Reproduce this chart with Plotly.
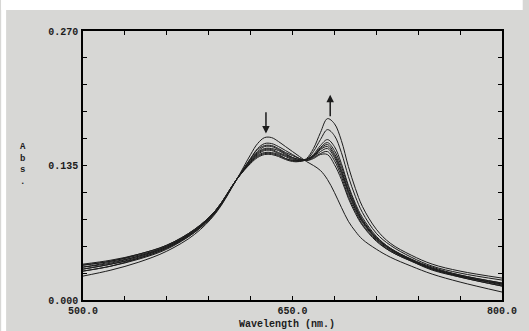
import plotly.graph_objects as go

# Wavelength grid (nm)
wavelength = [500, 520, 540, 560, 580, 595, 610, 620, 625, 630, 635, 640, 645, 650, 655,
              660, 665, 670, 675, 680, 685, 690, 695, 700, 710, 720, 735, 750, 770, 800]

# Absorbance spectra (initial -> final)
abs_c0 = [0.024, 0.030, 0.038, 0.049, 0.066, 0.087, 0.121, 0.146, 0.157, 0.163, 0.163, 0.159, 0.154, 0.149, 0.144,
          0.139, 0.135, 0.130, 0.121, 0.108, 0.093, 0.079, 0.069, 0.061, 0.051, 0.043, 0.034, 0.026, 0.018, 0.008]
abs_c1 = [0.029, 0.034, 0.041, 0.051, 0.068, 0.088, 0.121, 0.142, 0.152, 0.157, 0.157, 0.154, 0.150, 0.146, 0.142,
          0.140, 0.142, 0.146, 0.146, 0.136, 0.121, 0.102, 0.087, 0.075, 0.059, 0.049, 0.039, 0.030, 0.023, 0.014]
abs_c2 = [0.029, 0.034, 0.042, 0.052, 0.068, 0.088, 0.121, 0.142, 0.151, 0.155, 0.155, 0.152, 0.148, 0.145, 0.142,
          0.140, 0.143, 0.147, 0.149, 0.140, 0.124, 0.104, 0.089, 0.076, 0.060, 0.049, 0.039, 0.031, 0.023, 0.014]
abs_c3 = [0.031, 0.036, 0.042, 0.052, 0.069, 0.089, 0.121, 0.141, 0.149, 0.154, 0.154, 0.151, 0.147, 0.143, 0.141,
          0.141, 0.144, 0.149, 0.152, 0.143, 0.127, 0.107, 0.091, 0.078, 0.061, 0.050, 0.040, 0.031, 0.024, 0.015]
abs_c4 = [0.031, 0.036, 0.043, 0.053, 0.069, 0.089, 0.121, 0.140, 0.148, 0.152, 0.152, 0.150, 0.146, 0.143, 0.141,
          0.141, 0.144, 0.151, 0.154, 0.145, 0.129, 0.109, 0.092, 0.079, 0.062, 0.051, 0.040, 0.031, 0.024, 0.016]
abs_c5 = [0.033, 0.037, 0.044, 0.053, 0.070, 0.089, 0.121, 0.139, 0.147, 0.151, 0.151, 0.148, 0.145, 0.142, 0.140,
          0.141, 0.145, 0.152, 0.156, 0.147, 0.131, 0.110, 0.094, 0.080, 0.062, 0.051, 0.040, 0.032, 0.024, 0.016]
abs_c6 = [0.033, 0.038, 0.044, 0.054, 0.070, 0.089, 0.121, 0.139, 0.146, 0.150, 0.150, 0.147, 0.144, 0.141, 0.140,
          0.141, 0.145, 0.153, 0.158, 0.150, 0.134, 0.113, 0.095, 0.081, 0.063, 0.052, 0.041, 0.032, 0.025, 0.017]
abs_c7 = [0.035, 0.039, 0.045, 0.054, 0.070, 0.090, 0.121, 0.138, 0.145, 0.148, 0.148, 0.146, 0.142, 0.140, 0.140,
          0.141, 0.146, 0.155, 0.161, 0.154, 0.137, 0.115, 0.097, 0.083, 0.064, 0.052, 0.041, 0.033, 0.025, 0.017]
abs_c8 = [0.035, 0.039, 0.046, 0.055, 0.071, 0.090, 0.121, 0.138, 0.144, 0.147, 0.147, 0.145, 0.142, 0.140, 0.139,
          0.141, 0.149, 0.161, 0.171, 0.165, 0.148, 0.124, 0.104, 0.088, 0.067, 0.055, 0.043, 0.034, 0.027, 0.020]
abs_c9 = [0.036, 0.040, 0.046, 0.055, 0.071, 0.090, 0.121, 0.137, 0.143, 0.146, 0.146, 0.144, 0.141, 0.139, 0.139,
          0.142, 0.152, 0.168, 0.182, 0.177, 0.160, 0.134, 0.112, 0.094, 0.071, 0.057, 0.045, 0.036, 0.029, 0.022]

spectra = [abs_c0, abs_c1, abs_c2, abs_c3, abs_c4, abs_c5, abs_c6, abs_c7, abs_c8, abs_c9]

x_tick_vals = [500, 650, 800]
x_tick_text = ["500.0", "650.0", "800.0"]
y_tick_vals = [0.0, 0.135, 0.27]
y_tick_text = ["0.000", "0.135", "0.270"]

FONT = "Liberation Mono"
INK = "#1c1c1c"
BG = "#d7d7d5"

fig = go.Figure()
for s in spectra:
    fig.add_trace(go.Scatter(x=wavelength, y=s, mode="lines",
                             line=dict(color=INK, width=1, shape="spline", smoothing=1.0),
                             showlegend=False, hoverinfo="skip"))

axis_common = dict(showline=True, linecolor="black", linewidth=1.5, mirror="ticks",
                   showgrid=False, zeroline=False, ticks="inside", ticklen=4,
                   tickcolor="black", tickwidth=1,
                   tickfont=dict(family=FONT, size=10, color=INK, weight="bold"))

fig.update_xaxes(range=[500, 800], tickvals=x_tick_vals, ticktext=x_tick_text,
                 minor=dict(tick0=500, dtick=30, ticks="inside", ticklen=4, tickcolor="black"),
                 ticklabelstandoff=0, **axis_common)
fig.update_yaxes(range=[0, 0.27], tickvals=y_tick_vals, ticktext=y_tick_text,
                 minor=dict(tick0=0, dtick=0.027, ticks="inside", ticklen=4, tickcolor="black"),
                 ticklabelstandoff=1, **axis_common)

L, R, T, B = 83, 508, 31, 300
W, H = 529, 331
pw, ph = R - L, B - T

def px_x(p):
    return (p - L) / pw

def px_y(p):
    return (B - p) / ph

annotations = [
    dict(x=631, y=0.167, ax=631, ay=0.190, xref="x", yref="y", axref="x", ayref="y",
         showarrow=True, arrowhead=2, arrowsize=1, arrowwidth=1.5, arrowcolor=INK, text=""),
    dict(x=677, y=0.206, ax=677, ay=0.183, xref="x", yref="y", axref="x", ayref="y",
         showarrow=True, arrowhead=2, arrowsize=1, arrowwidth=1.5, arrowcolor=INK, text=""),
    dict(x=px_x(290), y=px_y(324), xref="paper", yref="paper", showarrow=False,
         text="Wavelength (nm.)", xanchor="center", yanchor="middle",
         font=dict(family=FONT, size=10, color=INK, weight="bold")),
    dict(x=px_x(22), y=px_y(164), xref="paper", yref="paper", showarrow=False,
         text="A<br>b<br>s<br>.", xanchor="center", yanchor="middle", align="center",
         font=dict(family=FONT, size=9, color=INK, weight="bold")),
]

shapes = [
    dict(type="rect", xref="paper", yref="paper", x0=px_x(0), x1=px_x(W), y0=px_y(0), y1=px_y(10),
         fillcolor="white", line=dict(width=0), layer="below"),
    dict(type="rect", xref="paper", yref="paper", x0=px_x(0), x1=px_x(5), y0=px_y(0), y1=px_y(H),
         fillcolor="white", line=dict(width=0), layer="below"),
]

fig.update_layout(width=W, height=H, margin=dict(l=L, r=W - R, t=T, b=H - B),
                  paper_bgcolor=BG, plot_bgcolor=BG,
                  annotations=annotations, shapes=shapes)

fig.write_html("out.html")
